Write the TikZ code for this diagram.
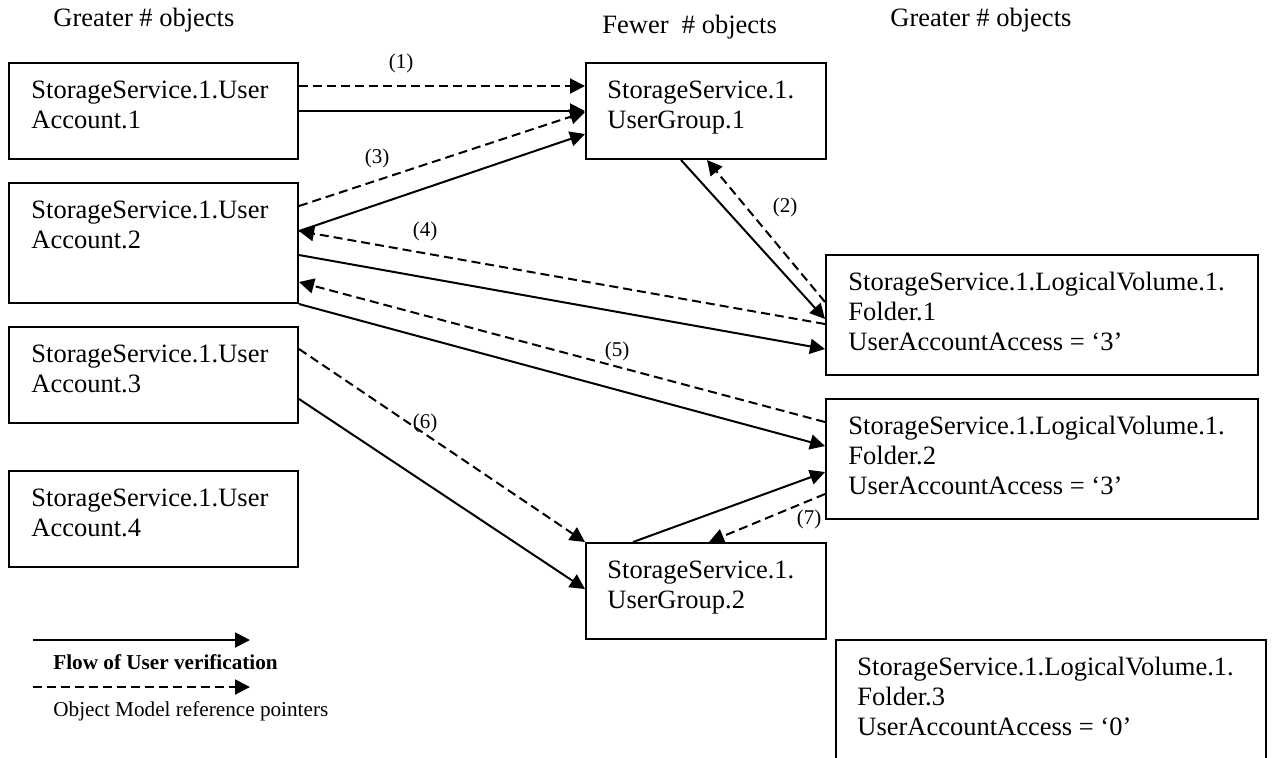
\documentclass[tikz,border=0pt]{standalone}
\usepackage{fontspec}
\setmainfont{Liberation Serif}
\usetikzlibrary{arrows.meta,calc}
\begin{document}
\begin{tikzpicture}[x=0.5pt,y=-0.5pt,
  box/.style={draw, line width=1pt, inner sep=0pt},
  txt/.style={anchor=base west, align=left, inner sep=0pt, font=\fontsize{13.25}{15}\selectfont},
  head/.style={anchor=base west, inner sep=0pt, font=\fontsize{13.25}{15}\selectfont},
  lbl/.style={inner sep=0pt, font=\fontsize{10.5}{12}\selectfont},
  legtxt/.style={anchor=base west, inner sep=0pt, font=\fontsize{10.6}{12}\selectfont},
  flow/.style={line width=1pt, -{Triangle[length=7.5pt,width=7.5pt]}},
  refp/.style={flow, dash pattern=on 4.5pt off 2.5pt},
]
\useasboundingbox (0,0) rectangle (1272,757);

% headers
\node[head] (h1) at (53,26) {Greater \# objects};
\node[head] (h2) at (602,33) {Fewer\ \ \# objects};
\node[head] (h3) at (890,26) {Greater \# objects};

% boxes
\node[box, minimum width=144.5pt, minimum height=48pt] (ua1) at (153.5,111) {};
\node[box, minimum width=144.5pt, minimum height=60pt] (ua2) at (153.5,243) {};
\node[box, minimum width=144.5pt, minimum height=48pt] (ua3) at (153.5,375) {};
\node[box, minimum width=144.5pt, minimum height=48pt] (ua4) at (153.5,519) {};
\node[box, minimum width=120pt, minimum height=48pt] (ug1) at (706,111) {};
\node[box, minimum width=120pt, minimum height=48pt] (ug2) at (706,591) {};
\node[box, minimum width=216pt, minimum height=60pt] (f1) at (1042,315) {};
\node[box, minimum width=216pt, minimum height=60pt] (f2) at (1042,459) {};
\node[box, minimum width=215pt, minimum height=60pt] (f3) at (1051,700) {};

% box texts (anchored at the baseline of the last line)
\node[txt] (ua1t) at (31,128) {StorageService.1.User\\Account.1};
\node[txt] (ua2t) at (31,248) {StorageService.1.User\\Account.2};
\node[txt] (ua3t) at (31,392) {StorageService.1.User\\Account.3};
\node[txt] (ua4t) at (31,536) {StorageService.1.User\\Account.4};
\node[txt] (ug1t) at (607,128) {StorageService.1.\\UserGroup.1};
\node[txt] (ug2t) at (607,608) {StorageService.1.\\UserGroup.2};
\node[txt] (f1t) at (848,350) {StorageService.1.LogicalVolume.1.\\Folder.1\\UserAccountAccess = ‘3’};
\node[txt] (f2t) at (848,494) {StorageService.1.LogicalVolume.1.\\Folder.2\\UserAccountAccess = ‘3’};
\node[txt] (f3t) at (857,735) {StorageService.1.LogicalVolume.1.\\Folder.3\\UserAccountAccess = ‘0’};

% connectors: flow of user verification (solid)
\draw[flow] (ua1.east) -- (ug1.west);
\draw[flow] ($(ua2.north east)+(0,49)$) -- ($(ug1.north west)+(0,72)$);
\draw[flow] ($(ug1.south west)+(96,0)$) -- ($(f1.north west)+(0,65)$);
\draw[flow] ($(ua2.north east)+(0,73)$) -- ($(f1.north west)+(0,95)$);
\draw[flow] (ua2.south east) -- ($(f2.north west)+(0,48)$);
\draw[flow] ($(ug2.north west)+(48,0)$) -- ($(f2.north west)+(0,74)$);
\draw[flow] ($(ua3.north east)+(0,73)$) -- ($(ug2.north west)+(0,47)$);

% connectors: object model reference pointers (dashed)
\draw[refp] ($(ua1.north east)+(0,24)$) -- ($(ug1.north west)+(0,24)$);
\draw[refp] ($(f1.north west)+(0,48)$) -- ($(ug1.south west)+(122,0)$);
\draw[refp] ($(ua2.north east)+(0,24)$) -- ($(ug1.north west)+(0,50)$);
\draw[refp] ($(f1.north west)+(0,70)$) -- ($(ua2.north east)+(0,49)$);
\draw[refp] ($(f2.north west)+(0,24)$) -- ($(ua2.north east)+(0,100)$);
\draw[refp] ($(ua3.north east)+(0,23)$) -- (ug2.north west);
\draw[refp] ($(f2.north west)+(0,96)$) -- ($(ug2.north west)+(124,0)$);

% labels
\node[lbl] (l1) at (401,63) {(1)};
\node[lbl] (l2) at (785,207) {(2)};
\node[lbl] (l3) at (377,158) {(3)};
\node[lbl] (l4) at (425,231) {(4)};
\node[lbl] (l5) at (617,351) {(5)};
\node[lbl] (l6) at (425,423) {(6)};
\node[lbl] (l7) at (809,519) {(7)};

% legend
\coordinate (lgs1) at (33,640);
\coordinate (lge1) at (250,640);
\coordinate (lgs2) at (33,687);
\coordinate (lge2) at (250,687);
\draw[flow] (lgs1) -- (lge1);
\draw[refp] (lgs2) -- (lge2);
\node[legtxt] (lg1) at (53,669) {\bfseries Flow of User verification};
\node[legtxt] (lg2) at (53,716) {Object Model reference pointers};
\end{tikzpicture}
\end{document}
